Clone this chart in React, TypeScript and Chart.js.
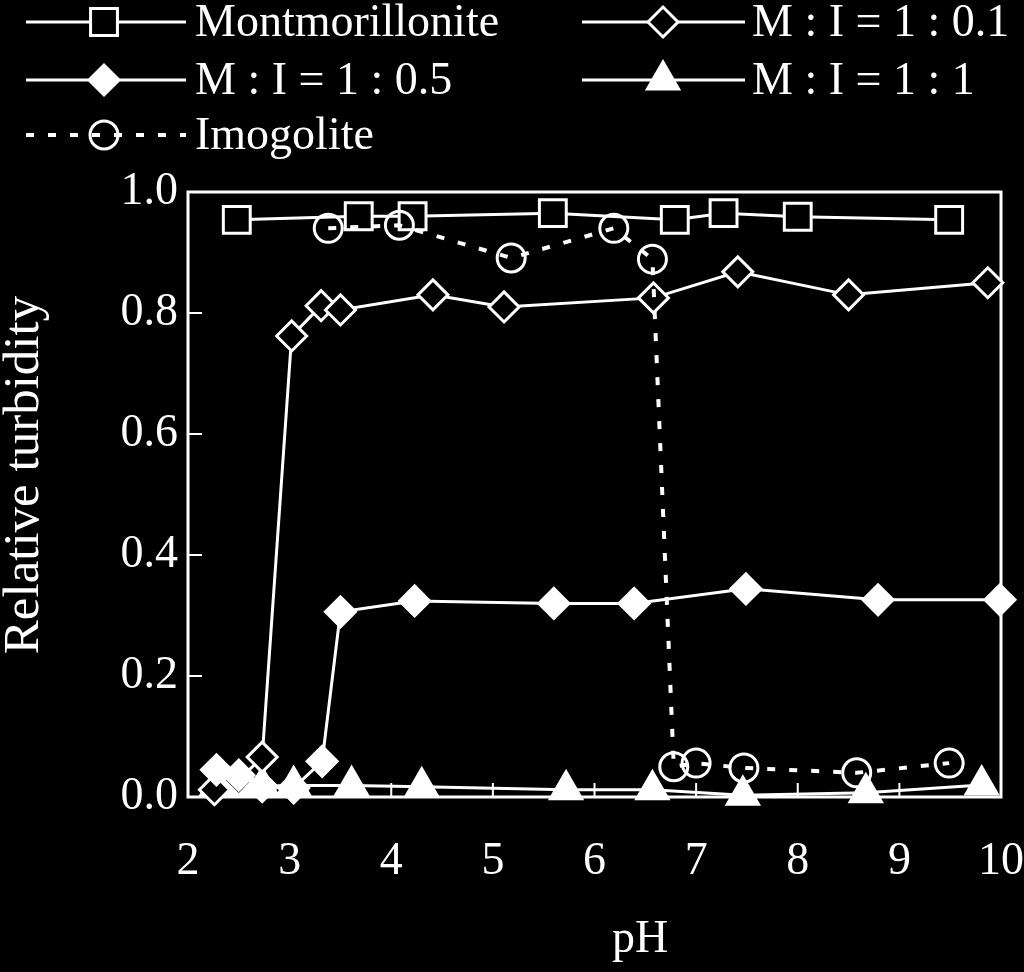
import React, { useEffect, useRef } from 'react';
import { Chart, registerables } from 'chart.js';

Chart.register(...registerables);

// ---- data ----
const xTicks = [2, 3, 4, 5, 6, 7, 8, 9, 10];
const yTicks = [0, 0.2, 0.4, 0.6, 0.8, 1.0];
const xTitle = 'pH';
const yTitle = 'Relative turbidity';
const seriesLabels = ['Montmorillonite', 'M : I = 1 : 0.1', 'M : I = 1 : 0.5', 'M : I = 1 : 1', 'Imogolite'];

const montPH = [2.48, 3.68, 4.21, 5.59, 6.79, 7.27, 8.0, 9.49];
const montTurb = [0.954, 0.96, 0.96, 0.965, 0.954, 0.965, 0.959, 0.954];

const mi01PH = [2.26, 2.5, 2.73, 3.02, 3.31, 3.5, 4.41, 5.11, 6.58, 7.41, 8.5, 9.87];
const mi01Turb = [0.012, 0.028, 0.066, 0.762, 0.812, 0.805, 0.83, 0.81, 0.825, 0.868, 0.83, 0.85];

const mi05PH = [2.28, 2.5, 2.73, 3.04, 3.32, 3.5, 4.23, 5.6, 6.39, 7.49, 8.79, 9.99];
const mi05Turb = [0.045, 0.036, 0.017, 0.015, 0.059, 0.306, 0.324, 0.32, 0.32, 0.344, 0.326, 0.326];

const mi1PH = [2.28, 2.5, 2.73, 3.04, 3.61, 4.3, 5.72, 6.57, 7.46, 8.67, 9.81];
const mi1Turb = [0.018, 0.018, 0.018, 0.019, 0.019, 0.017, 0.012, 0.012, 0.003, 0.007, 0.02];

const imoPH = [3.38, 4.08, 5.18, 6.19, 6.57, 6.78, 7.0, 7.47, 8.58, 9.49];
const imoTurb = [0.94, 0.945, 0.891, 0.94, 0.889, 0.05, 0.056, 0.048, 0.04, 0.056];

const FONT = '"Liberation Serif", "Times New Roman", serif';
const WHITE = '#ffffff';
const BLACK = '#000000';

const pts = (xs: number[], ys: number[]) => xs.map((x, i) => ({ x, y: ys[i] }));

const IMO_DASH = [8, 14];

type MarkerSpec = { style: string; radius: number; fill: string; dash?: number[]; lineWidth: number };
const markers: MarkerSpec[] = [
  { style: 'rect', radius: 19, fill: BLACK, lineWidth: 3 },
  { style: 'rectRot', radius: 15, fill: BLACK, lineWidth: 3 },
  { style: 'rectRot', radius: 15, fill: WHITE, lineWidth: 3 },
  { style: 'triangle', radius: 18, fill: WHITE, lineWidth: 3 },
  { style: 'circle', radius: 14, fill: 'rgba(0,0,0,0)', dash: IMO_DASH, lineWidth: 4 },
];

function drawMarker(ctx: CanvasRenderingContext2D, m: MarkerSpec, x: number, y: number) {
  ctx.save();
  ctx.setLineDash([]);
  ctx.fillStyle = m.fill;
  ctx.strokeStyle = WHITE;
  ctx.lineWidth = 3;
  ctx.beginPath();
  const r = m.radius;
  if (m.style === 'rect') {
    const s = Math.SQRT1_2 * r;
    ctx.rect(x - s, y - s, 2 * s, 2 * s);
  } else if (m.style === 'rectRot') {
    ctx.moveTo(x - r, y);
    ctx.lineTo(x, y - r);
    ctx.lineTo(x + r, y);
    ctx.lineTo(x, y + r);
    ctx.closePath();
  } else if (m.style === 'triangle') {
    let a = 0;
    ctx.moveTo(x + Math.sin(a) * r, y - Math.cos(a) * r);
    a += (2 * Math.PI) / 3;
    ctx.lineTo(x + Math.sin(a) * r, y - Math.cos(a) * r);
    a += (2 * Math.PI) / 3;
    ctx.lineTo(x + Math.sin(a) * r, y - Math.cos(a) * r);
    ctx.closePath();
  } else {
    ctx.arc(x, y, r, 0, Math.PI * 2);
  }
  ctx.fill();
  ctx.stroke();
  ctx.restore();
}

// legend slots: [lineStart, lineEnd, markerX, textX, rowY]
const legendSlots = [
  [26, 186, 104, 195, 22],
  [582, 745, 663, 752, 22],
  [26, 186, 104, 195, 80],
  [582, 745, 663, 752, 80],
  [26, 186, 104, 195, 135],
];

const decorPlugin = {
  id: 'decor',
  beforeDraw(chart: any) {
    const ctx = chart.ctx;
    ctx.save();
    ctx.fillStyle = BLACK;
    ctx.fillRect(0, 0, chart.width, chart.height);
    ctx.restore();
  },
  beforeDatasetsDraw(chart: any) {
    const { ctx, chartArea: a, scales } = chart;
    ctx.save();
    ctx.strokeStyle = WHITE;
    ctx.lineWidth = 3;
    ctx.strokeRect(a.left, a.top, a.right - a.left, a.bottom - a.top);
    ctx.lineWidth = 2;
    ctx.beginPath();
    xTicks.forEach((v) => {
      const px = scales.x.getPixelForValue(v);
      ctx.moveTo(px, a.bottom);
      ctx.lineTo(px, a.bottom - 14);
    });
    yTicks.forEach((v) => {
      const py = scales.y.getPixelForValue(v);
      ctx.moveTo(a.left, py);
      ctx.lineTo(a.left + 14, py);
    });
    ctx.stroke();
    ctx.restore();
  },
  afterDraw(chart: any) {
    const ctx = chart.ctx;
    ctx.save();
    // axis titles
    ctx.fillStyle = WHITE;
    ctx.textAlign = 'center';
    ctx.textBaseline = 'middle';
    ctx.font = `46px ${FONT}`;
    ctx.fillText(xTitle, 640, 940);
    ctx.save();
    ctx.translate(25, 475);
    ctx.rotate(-Math.PI / 2);
    ctx.font = `51px ${FONT}`;
    ctx.fillText(yTitle, 0, 0);
    ctx.restore();

    // legend
    seriesLabels.forEach((label, i) => {
      const [x0, x1, mx, tx, y] = legendSlots[i];
      const m = markers[i];
      ctx.save();
      ctx.strokeStyle = WHITE;
      ctx.lineWidth = m.lineWidth;
      ctx.setLineDash(m.dash || []);
      ctx.beginPath();
      ctx.moveTo(x0, y);
      ctx.lineTo(x1, y);
      ctx.stroke();
      ctx.restore();
      drawMarker(ctx, m, mx, y);
      ctx.fillStyle = WHITE;
      ctx.textAlign = 'left';
      ctx.textBaseline = 'middle';
      ctx.font = `46px ${FONT}`;
      ctx.fillText(label, tx, y + 2);
    });
    ctx.restore();
  },
};

export default function App() {
  const canvasRef = useRef<HTMLCanvasElement | null>(null);

  useEffect(() => {
    if (!canvasRef.current) return;
    const allX = [montPH, mi01PH, mi05PH, mi1PH, imoPH];
    const allY = [montTurb, mi01Turb, mi05Turb, mi1Turb, imoTurb];
    const orders = [1, 3, 2, 4, 0];
    const datasets = seriesLabels.map((label, i) => {
      const m = markers[i];
      return {
        label,
        data: pts(allX[i], allY[i]),
        borderColor: WHITE,
        borderWidth: m.lineWidth,
        borderDash: m.dash || [],
        pointStyle: m.style,
        pointRadius: m.radius,
        pointHoverRadius: m.radius,
        pointBorderWidth: 3,
        pointBackgroundColor: m.fill,
        pointBorderColor: WHITE,
        showLine: true,
        tension: 0,
        fill: false,
        clip: false as any,
        order: orders[i],
      };
    });

    const chart = new Chart(canvasRef.current, {
      type: 'line',
      data: { datasets: datasets as any },
      plugins: [decorPlugin],
      options: {
        animation: false,
        responsive: false,
        devicePixelRatio: 1,
        events: [],
        layout: { padding: { top: 192, right: 23, bottom: 0, left: 0 } },
        plugins: { legend: { display: false }, tooltip: { enabled: false } },
        scales: {
          x: {
            type: 'linear',
            min: 2,
            max: 10,
            afterBuildTicks: (s: any) => {
              s.ticks = xTicks.map((v) => ({ value: v }));
            },
            ticks: {
              color: WHITE,
              font: { family: FONT, size: 46 },
              padding: 37,
              maxRotation: 0,
              autoSkip: false,
              callback: (v: any) => String(v),
            },
            grid: { display: false, drawTicks: false },
            border: { display: false },
            afterFit: (s: any) => {
              s.height = 175;
              s.paddingLeft = 0;
              s.paddingRight = 0;
            },
          },
          y: {
            type: 'linear',
            min: 0,
            max: 1,
            afterBuildTicks: (s: any) => {
              s.ticks = yTicks.map((v) => ({ value: v }));
            },
            ticks: {
              color: WHITE,
              font: { family: FONT, size: 46 },
              padding: 10,
              autoSkip: false,
              callback: (v: any) => Number(v).toFixed(1),
            },
            grid: { display: false, drawTicks: false },
            border: { display: false },
            afterFit: (s: any) => {
              s.width = 188;
              s.paddingTop = 0;
              s.paddingBottom = 0;
            },
          },
        },
      } as any,
    });
    return () => chart.destroy();
  }, []);

  return (
    <div style={{ position: 'absolute', left: 0, top: 0, width: 1024, height: 972, background: BLACK }}>
      <canvas ref={canvasRef} width={1024} height={972} style={{ display: 'block' }} />
    </div>
  );
}
